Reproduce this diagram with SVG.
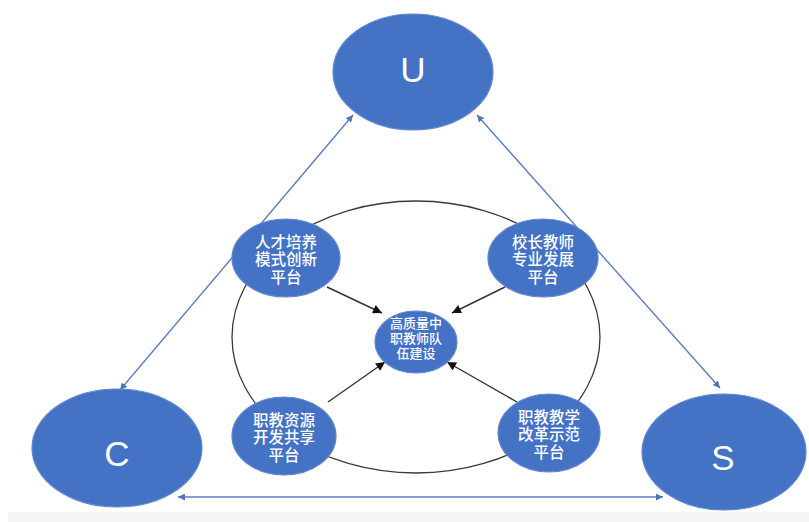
<svg xmlns="http://www.w3.org/2000/svg" width="809" height="522" viewBox="0 0 809 522">
  <style>
    .node { fill: #4472c4; stroke: #5f86cc; stroke-width: 1.2; }
    .big { font-family: "Liberation Sans", "DejaVu Sans", sans-serif; font-size: 35px; fill: #ffffff; text-anchor: middle; }
    .cn { font-family: "Liberation Sans", "Noto Sans CJK SC", sans-serif; font-size: 15.5px; fill: #ffffff; text-anchor: middle; font-weight: 500; }
    .cn-s { font-family: "Liberation Sans", "Noto Sans CJK SC", sans-serif; font-size: 13px; fill: #ffffff; text-anchor: middle; font-weight: 500; }
    .outer { fill: none; stroke: #5b7fbe; stroke-width: 1.4; marker-start: url(#blue-head); marker-end: url(#blue-head); }
    .inner { fill: none; stroke: #333333; stroke-width: 1.4; marker-end: url(#black-head); }
    .ring { fill: none; stroke: #3a3a3a; stroke-width: 1.3; }
  </style>
  <defs>
    <marker id="blue-head" viewBox="0 0 10 10" refX="10" refY="5" markerWidth="7" markerHeight="7" markerUnits="userSpaceOnUse" orient="auto-start-reverse">
      <path d="M0,0 L10,5 L0,10 z" fill="#4f74b8"/>
    </marker>
    <marker id="black-head" viewBox="0 0 10 10" refX="10" refY="5" markerWidth="10" markerHeight="9" markerUnits="userSpaceOnUse" orient="auto">
      <path d="M0,0 L10,5 L0,10 z" fill="#111111"/>
    </marker>
  </defs>

  <rect width="809" height="522" fill="#ffffff"/>
  <rect x="8" y="512" width="801" height="10" fill="#f4f5f6"/>

  <!-- outer ring behind the platforms -->
  <ellipse class="ring" cx="416" cy="337" rx="184" ry="136"/>

  <g id="connectors">
    <line class="outer" x1="353" y1="115" x2="120" y2="390"/>
    <line class="outer" x1="477" y1="115" x2="720" y2="388"/>
    <line class="outer" x1="178" y1="497" x2="663" y2="497"/>
    <line class="inner" x1="327" y1="287" x2="382" y2="313"/>
    <line class="inner" x1="505" y1="287" x2="452" y2="313"/>
    <line class="inner" x1="328" y1="402" x2="385" y2="362"/>
    <line class="inner" x1="517" y1="402" x2="447" y2="362"/>
  </g>

  <g id="node-u">
    <ellipse class="node" cx="413" cy="72" rx="80" ry="58"/>
    <text class="big" x="413" y="82">U</text>
  </g>
  <g id="node-c">
    <ellipse class="node" cx="117" cy="448" rx="85" ry="59"/>
    <text class="big" x="117" y="466">C</text>
  </g>
  <g id="node-s">
    <ellipse class="node" cx="724" cy="452" rx="82" ry="58"/>
    <text class="big" x="723" y="470">S</text>
  </g>

  <g id="node-talent">
    <ellipse class="node" cx="286" cy="258" rx="54" ry="39"/>
    <text class="cn" x="286" y="247.5"><tspan x="286">人才培养</tspan><tspan x="286" dy="17.5">模式创新</tspan><tspan x="286" dy="17.5">平台</tspan></text>
  </g>
  <g id="node-principal">
    <ellipse class="node" cx="543" cy="258" rx="55" ry="39"/>
    <text class="cn" x="543" y="247.5"><tspan x="543">校长教师</tspan><tspan x="543" dy="17.5">专业发展</tspan><tspan x="543" dy="17.5">平台</tspan></text>
  </g>
  <g id="node-resource">
    <ellipse class="node" cx="284" cy="436" rx="52" ry="39"/>
    <text class="cn" x="284" y="425.5"><tspan x="284">职教资源</tspan><tspan x="284" dy="17.5">开发共享</tspan><tspan x="284" dy="17.5">平台</tspan></text>
  </g>
  <g id="node-reform">
    <ellipse class="node" cx="549" cy="433" rx="51" ry="39"/>
    <text class="cn" x="549" y="422.5"><tspan x="549">职教教学</tspan><tspan x="549" dy="17.5">改革示范</tspan><tspan x="549" dy="17.5">平台</tspan></text>
  </g>
  <g id="node-center">
    <ellipse class="node" cx="416" cy="342" rx="41" ry="31"/>
    <text class="cn-s" x="416" y="328"><tspan x="416">高质量中</tspan><tspan x="416" dy="15">职教师队</tspan><tspan x="416" dy="15">伍建设</tspan></text>
  </g>
</svg>
